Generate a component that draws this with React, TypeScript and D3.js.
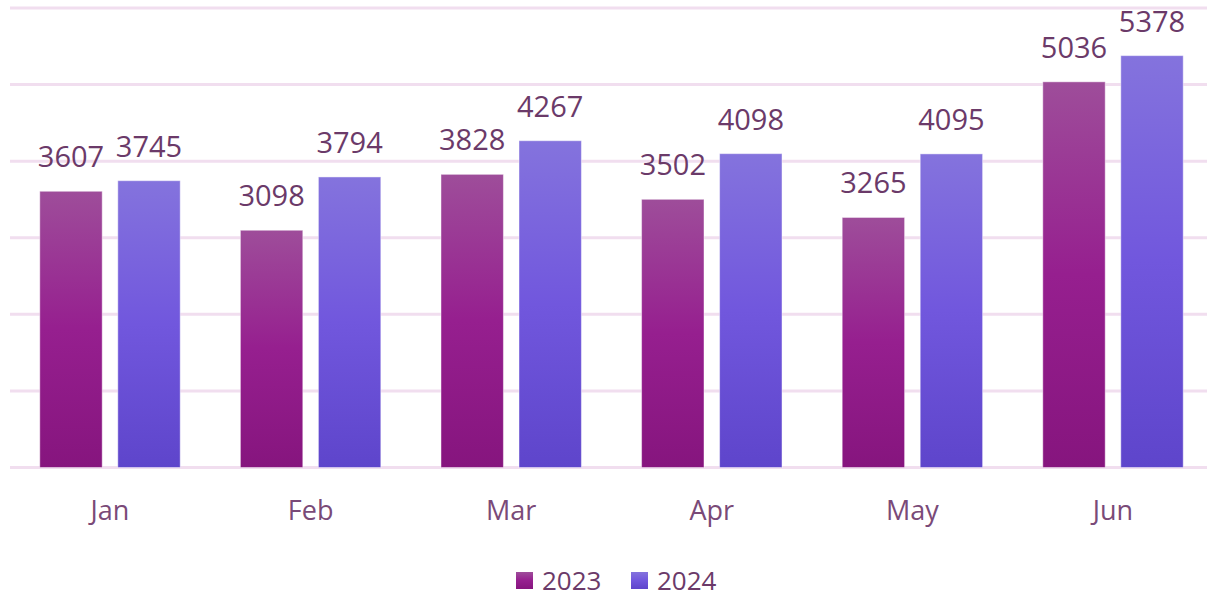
import React from "react";
import * as d3 from "d3";

const months = ["Jan", "Feb", "Mar", "Apr", "May", "Jun"];
const series = ["2023", "2024"];
const values2023 = [3607, 3098, 3828, 3502, 3265, 5036];
const values2024 = [3745, 3794, 4267, 4098, 4095, 5378];
const yTicks = [0, 1000, 2000, 3000, 4000, 5000, 6000];

const W = 1207;
const H = 597;
const FONT = "'Open Sans', 'DejaVu Sans', sans-serif";

export default function App() {
  const x0 = d3
    .scaleBand<string>()
    .domain(months)
    .range([9.7, 1213.3])
    .paddingInner(0.3)
    .paddingOuter(0.15);
  const x1 = d3
    .scaleBand<string>()
    .domain(series)
    .range([0, x0.bandwidth()])
    .paddingInner(0.2);
  const y = d3.scaleLinear().domain([0, 6000]).range([467.5, 8]);

  const data = [values2023, values2024];
  const grads = ["g2023", "g2024"];

  return (
    <div style={{ position: "absolute", left: 0, top: 0 }}>
      <svg width={W} height={H} style={{ display: "block", background: "#fff" }}>
        <defs>
          <linearGradient id="g2023" x1="0" y1="0" x2="0" y2="1">
            <stop offset="0" stopColor="#9e4d9a" />
            <stop offset="0.5" stopColor="#961f8f" />
            <stop offset="1" stopColor="#86157e" />
          </linearGradient>
          <linearGradient id="g2024" x1="0" y1="0" x2="0" y2="1">
            <stop offset="0" stopColor="#8473dd" />
            <stop offset="0.5" stopColor="#7157dd" />
            <stop offset="1" stopColor="#5e45cb" />
          </linearGradient>
        </defs>
        {yTicks.map((t) => (
          <line
            key={t}
            x1={10}
            x2={W}
            y1={y(t)}
            y2={y(t)}
            stroke="#f1deef"
            strokeWidth={3}
          />
        ))}
        {months.map((m, i) => (
          <g key={m} transform={`translate(${x0(m)},0)`}>
            {series.map((s, si) => {
              const v = data[si][i];
              const bx = x1(s) as number;
              const bw = x1.bandwidth();
              return (
                <g key={s}>
                  <rect
                    x={bx}
                    y={y(v)}
                    width={bw}
                    height={y(0) - y(v)}
                    fill={`url(#${grads[si]})`}
                    stroke="rgba(255,255,255,0.45)"
                    strokeWidth={1}
                  />
                  <text
                    x={bx + bw / 2}
                    y={y(v) - 24}
                    textAnchor="middle"
                    fontFamily={FONT}
                    fontSize={29}
                    fill="#6b3a69"
                  >
                    {v}
                  </text>
                </g>
              );
            })}
            <text
              x={x0.bandwidth() / 2}
              y={520}
              textAnchor="middle"
              fontFamily={FONT}
              fontSize={27}
              fill="#7a4a78"
            >
              {m}
            </text>
          </g>
        ))}
        {series.map((s, si) => {
          const lx = si === 0 ? 516 : 631;
          return (
            <g key={s}>
              <rect x={lx} y={572} width={17} height={17} fill={`url(#${grads[si]})`} />
              <text
                x={lx + 26}
                y={589.5}
                fontFamily={FONT}
                fontSize={26}
                fill="#6b3a69"
              >
                {s}
              </text>
            </g>
          );
        })}
      </svg>
    </div>
  );
}
